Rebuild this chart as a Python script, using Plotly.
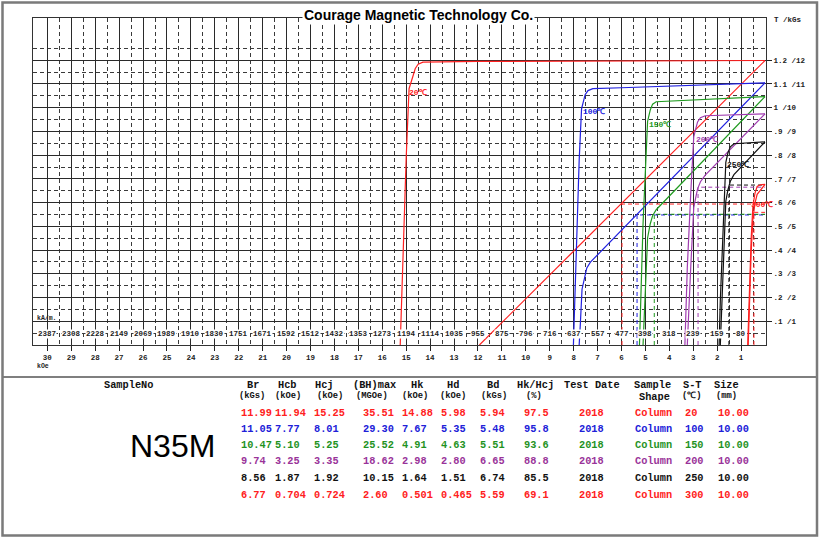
import plotly.graph_objects as go

# ---- axis labels ----
koe_ticks = list(range(1, 31))
kam_labels = ['80', '159', '239', '318', '398', '477', '557', '637', '716', '796',
              '875', '955', '1035', '1114', '1194', '1273', '1353', '1432', '1512', '1592',
              '1671', '1751', '1830', '1910', '1989', '2069', '2149', '2228', '2308', '2387']
t_ticks = [0.1, 0.2, 0.3, 0.4, 0.5, 0.6, 0.7, 0.8, 0.9, 1.0, 1.1, 1.2]
t_text = ['.1 /1', '.2 /2', '.3 /3', '.4 /4', '.5 /5', '.6 /6', '.7 /7', '.8 /8',
          '.9 /9', '1 /10', '1.1 /11', '1.2 /12']

# ---- table values ----
temps = ['20', '100', '150', '200', '250', '300']
br = ['11.99', '11.05', '10.47', '9.74', '8.56', '6.77']
hcb = ['11.94', '7.77', '5.10', '3.25', '1.87', '0.704']
hcj = ['15.25', '8.01', '5.25', '3.35', '1.92', '0.724']
bhmax = ['35.51', '29.30', '25.52', '18.62', '10.15', '2.60']
hk = ['14.88', '7.67', '4.91', '2.98', '1.64', '0.501']
hd = ['5.98', '5.35', '4.63', '2.80', '1.51', '0.465']
bd = ['5.94', '5.48', '5.51', '6.65', '6.74', '5.59']
hk_hcj = ['97.5', '95.8', '93.6', '88.8', '85.5', '69.1']
test_date = ['2018', '2018', '2018', '2018', '2018', '2018']
shape = ['Column', 'Column', 'Column', 'Column', 'Column', 'Column']
size = ['10.00', '10.00', '10.00', '10.00', '10.00', '10.00']

colors = ['#ff2020', '#2020e0', '#1f9a1f', '#a03cb0', '#111111', '#ff2020']
text_colors = ['#ff2020', '#2020d8', '#1f931f', '#993399', '#111111', '#ff2020']

# ---- demagnetisation curves (H in kOe, J / B in T) ----
j20_h = [0, 4, 8, 12, 14.3, 14.5, 14.62, 14.72, 14.88, 15.0, 15.25]
j20 = [1.199, 1.198, 1.197, 1.195, 1.192, 1.183, 1.165, 1.13, 1.08, 0.79, 0]
b20_h = [0, 11.94]
b20 = [1.199, 0]

j100_h = [0, 3, 6, 7.2, 7.4, 7.52, 7.6, 7.67, 7.77, 7.88, 8.01]
j100 = [1.105, 1.093, 1.084, 1.080, 1.072, 1.055, 1.02, 0.995, 0.777, 0.42, 0]
b100_h = [0, 7.3, 7.45, 7.55, 7.65, 7.72, 7.77]
b100 = [1.105, 0.349, 0.325, 0.285, 0.235, 0.09, 0]

j150_h = [0, 2, 4, 4.55, 4.7, 4.8, 4.91, 5.0, 5.1, 5.25]
j150 = [1.047, 1.038, 1.029, 1.025, 1.015, 0.99, 0.942, 0.74, 0.51, 0]
b150_h = [0, 4.55, 4.7, 4.8, 4.91, 5.0, 5.1]
b150 = [1.047, 0.57, 0.545, 0.51, 0.451, 0.24, 0]

j200_h = [0, 1.5, 2.5, 2.7, 2.82, 2.9, 2.98, 3.1, 3.25, 3.35]
j200 = [0.974, 0.971, 0.966, 0.958, 0.94, 0.91, 0.877, 0.65, 0.325, 0]
b200_h = [0, 2.5, 2.7, 2.82, 2.9, 2.98, 3.1, 3.25]
b200 = [0.974, 0.716, 0.688, 0.658, 0.62, 0.579, 0.34, 0]

j250_h = [0, 0.8, 1.3, 1.45, 1.55, 1.64, 1.75, 1.87, 1.92]
j250 = [0.856, 0.853, 0.848, 0.835, 0.81, 0.77, 0.5, 0.187, 0]
b250_h = [0, 1.3, 1.45, 1.55, 1.64, 1.75, 1.87]
b250 = [0.856, 0.718, 0.69, 0.655, 0.606, 0.325, 0]

j300_h = [0, 0.2, 0.33, 0.42, 0.465, 0.51, 0.58, 0.65, 0.704, 0.724]
j300 = [0.677, 0.675, 0.668, 0.64, 0.612, 0.58, 0.45, 0.26, 0.07, 0]
b300_h = [0, 0.33, 0.42, 0.465, 0.51, 0.58, 0.65, 0.704]
b300 = [0.677, 0.635, 0.598, 0.565, 0.529, 0.392, 0.195, 0]

j_curves = [(j20_h, j20), (j100_h, j100), (j150_h, j150),
            (j200_h, j200), (j250_h, j250), (j300_h, j300)]
b_curves = [(b20_h, b20), (b100_h, b100), (b150_h, b150),
            (b200_h, b200), (b250_h, b250), (b300_h, b300)]

# temperature label positions (kOe, T)
lab_h = [14.5, 7.15, 4.39, 2.42, 1.13, 0.12]
lab_t = [1.066, 0.982, 0.931, 0.868, 0.759, 0.594]

MONO = 'Liberation Mono, Courier New, monospace'
SANS = 'Arial, Liberation Sans, sans-serif'

# plot area in pixels
L, R, T, B = 33, 766, 18, 345


def px(xp):
    return (xp - L) / (R - L)


def py(yp):
    return (B - yp) / (B - T)


fig = go.Figure()

for i in range(6):
    h, j = j_curves[i]
    fig.add_trace(go.Scatter(x=h, y=j, mode='lines', line=dict(color=colors[i], width=1.2),
                             hoverinfo='skip'))
    h, b = b_curves[i]
    fig.add_trace(go.Scatter(x=h, y=b, mode='lines', line=dict(color=colors[i], width=1.2),
                             hoverinfo='skip'))
    hdv, bdv = float(hd[i]), float(bd[i]) / 10
    fig.add_trace(go.Scatter(x=[hdv, hdv, 0], y=[0, bdv, bdv], mode='lines',
                             line=dict(color=colors[i], width=1, dash='4px,3px'),
                             hoverinfo='skip'))

ann = []

# temperature labels on the curves
for i in range(6):
    ann.append(dict(x=lab_h[i], y=lab_t[i], xref='x', yref='y', text=temps[i] + '℃',
                    showarrow=False, yanchor='middle',
                    font=dict(family=MONO, size=8, color=colors[i], weight='bold')))
    # curve numbers under the axis
    ann.append(dict(x=float(hcj[i]), y=-0.013, xref='x', yref='y', text=str(i + 1),
                    xshift=6, showarrow=False, yanchor='middle',
                    font=dict(family=MONO, size=7, color=colors[i], weight='bold')))

# kA/m row
for k, lab in zip(koe_ticks, kam_labels):
    ann.append(dict(x=k, y=0.046, xref='x', yref='y', text=lab, showarrow=False,
                    yanchor='middle', bgcolor='white', borderpad=0,
                    font=dict(family=MONO, size=7.5, color='#222', weight='bold')))

ann.append(dict(x=px(35), y=0.11, xref='paper', yref='y', text='kA/m.', xanchor='left',
                yanchor='middle', showarrow=False,
                font=dict(family=MONO, size=6.5, color='#222', weight='bold')))
ann.append(dict(x=px(35), y=py(366), xref='paper', yref='paper', text='kOe', xanchor='left',
                yanchor='middle', showarrow=False,
                font=dict(family=MONO, size=6.5, color='#222', weight='bold')))
ann.append(dict(x=px(772), y=py(20), xref='paper', yref='paper', text='T /kGs', xanchor='left',
                yanchor='middle', showarrow=False,
                font=dict(family=MONO, size=7.5, color='#222', weight='bold')))

# title
ann.append(dict(x=px(418), y=py(15), xref='paper', yref='paper',
                text='<b>Courage Magnetic Technology Co.</b>', showarrow=False,
                yanchor='middle', bgcolor='white', borderpad=1,
                font=dict(family=SANS, size=14, color='black')))

# ---- table ----
def tab(xp_, yp_, s, color='#111', size_=10.3, anchor='left'):
    ann.append(dict(x=px(xp_), y=py(yp_), xref='paper', yref='paper', text=s,
                    xanchor=anchor, yanchor='middle', showarrow=False,
                    font=dict(family=MONO, size=size_, color=color, weight='bold')))


head1 = [(128, 'SampleNo'), (253, 'Br'), (287, 'Hcb'), (324, 'Hcj'), (374, '(BH)max'),
         (417, 'Hk'), (453, 'Hd'), (493, 'Bd'), (535, 'Hk/Hcj'), (592, 'Test Date'),
         (652, 'Sample'), (692, 'S-T'), (726, 'Size')]
head2 = [(252, '(kGs)'), (288, '(kOe)'), (330, '(kOe)'), (372, '(MGOe)'), (415, '(kOe)'),
         (453, '(kOe)'), (494, '(kGs)'), (534, '(%)'), (692, '(℃)'), (726, '(mm)')]
for x_, s in head1:
    tab(x_, 385, s, size_=10.3, anchor='center')
for x_, s in head2:
    tab(x_, 396, s, size_=8.8, anchor='center')
tab(654, 397, 'Shape', size_=10.3, anchor='center')

cols = [(239, br), (273, hcb), (312, hcj), (361, bhmax), (400, hk), (439, hd), (478, bd),
        (522, hk_hcj), (577, test_date), (633, shape), (683, temps), (716, size)]
row_y = [413, 429, 445, 461, 478, 495]
for r in range(6):
    for x_, vals in cols:
        tab(x_, row_y[r], vals[r], color=text_colors[r])

ann.append(dict(x=px(128), y=py(446), xref='paper', yref='paper', text='N35M', showarrow=False,
                yanchor='middle', font=dict(family=SANS, size=32, color='black')))

shapes = [
    dict(type='line', xref='paper', yref='paper', x0=px(3), x1=px(817), y0=py(377), y1=py(377),
         line=dict(color='#555', width=1.5)),
    dict(type='rect', xref='paper', yref='paper', x0=px(2.5), x1=px(817), y0=py(2.5), y1=py(535.5),
         line=dict(color='#7a7a7a', width=2.5)),
]

fig.update_layout(
    width=820, height=539,
    margin=dict(l=L, r=820 - R, t=T, b=539 - B),
    paper_bgcolor='white', plot_bgcolor='white',
    showlegend=False,
    annotations=ann,
    shapes=shapes,
    xaxis=dict(range=[30.6, -0.04], tickmode='array', tickvals=koe_ticks,
               ticktext=[str(k) for k in koe_ticks], ticks='outside', ticklen=5,
               tickcolor='#222', tickfont=dict(family=MONO, size=7.5, color='#222', weight='bold'),
               showgrid=True, gridcolor='#2a2a2a', gridwidth=1,
               minor=dict(tickvals=[k - 0.5 for k in koe_ticks], showgrid=True,
                          gridcolor='#3a3a3a', griddash='4px,3px', gridwidth=1),
               showline=True, linecolor='#333', linewidth=1, mirror=True, zeroline=False),
    yaxis=dict(range=[0, 1.378], side='right', tickmode='array', tickvals=t_ticks,
               ticktext=t_text, ticks='outside', ticklen=5, tickcolor='#222',
               tickfont=dict(family=MONO, size=7.5, color='#222', weight='bold'),
               showgrid=True, gridcolor='#2a2a2a', gridwidth=1,
               minor=dict(tickvals=[t - 0.05 for t in t_ticks] + [1.25], showgrid=True,
                          gridcolor='#3a3a3a', griddash='4px,3px', gridwidth=1),
               showline=True, linecolor='#333', linewidth=1, mirror=True, zeroline=False),
)

fig.write_html('out.html', config={'displayModeBar': False},
               post_script="document.body.style.margin='0px';")
